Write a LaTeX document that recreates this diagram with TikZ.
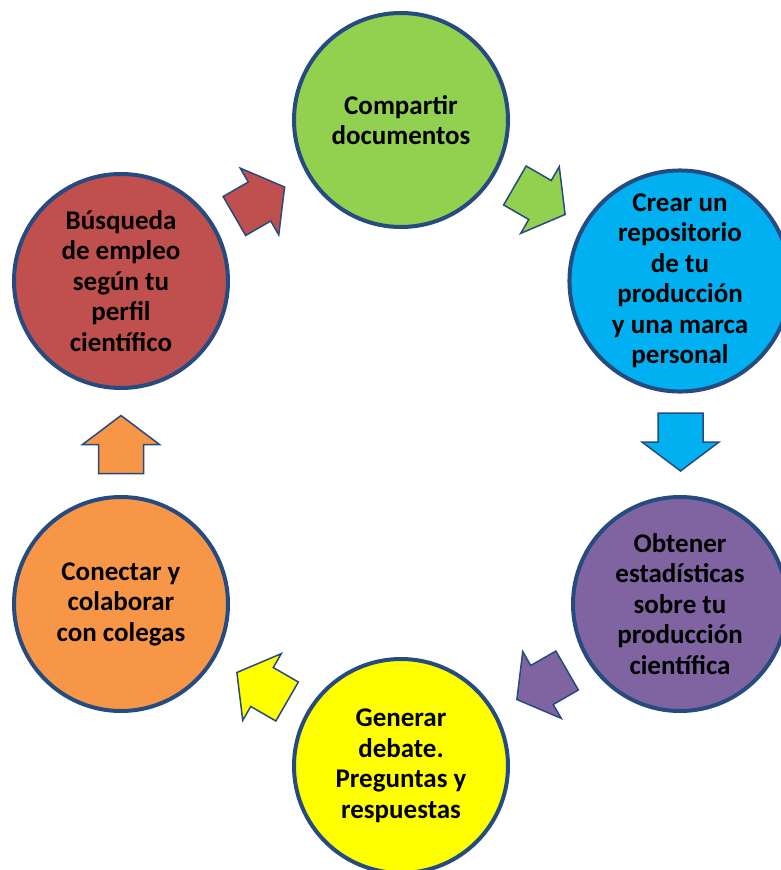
\documentclass[tikz,border=0pt]{standalone}
\usepackage{fontspec}
\setmainfont{Carlito}
\definecolor{rim}{RGB}{37,75,128}
\definecolor{cgreen}{HTML}{92D050}
\definecolor{cblue}{HTML}{00B0F0}
\definecolor{cpurple}{HTML}{8064A2}
\definecolor{cyellow}{HTML}{FFFF00}
\definecolor{corange}{HTML}{F79646}
\definecolor{cred}{HTML}{C0504D}
\tikzset{
  stage/.style={circle, draw=rim, line width=4pt, minimum size=214pt, inner sep=0pt,
    align=center, font=\fontsize{27}{30.5}\selectfont\bfseries, text=black},
  blockarrow/.style={draw=rim, line width=1.5pt, line join=miter}
}
% #1 name, #2 x, #3 y, #4 angle, #5 colour
\newcommand{\blockarr}[5]{%
  \begin{scope}[shift={(#2,#3)}, rotate=#4]
    \coordinate (#1) at (0,0);
    \path[blockarrow, fill=#5] (-29,-22.5) -- (0,-22.5) -- (0,-38.5) -- (29,0)
      -- (0,38.5) -- (0,22.5) -- (-29,22.5) -- cycle;
  \end{scope}}
\begin{document}
\begin{tikzpicture}[x=1pt,y=-1pt]
\useasboundingbox (0,0) rectangle (781,870);
\clip (0,0) rectangle (781,870);
\node[stage, fill=cgreen] (n1) at (401,120) {Compartir\\documentos};
\node[stage, fill=cblue] (n2) at (680,281) {Crear un\\repositorio\\de tu\\producción\\y una marca\\personal};
\node[stage, fill=cpurple] (n3) at (680,604) {Obtener\\estadísticas\\sobre tu\\producción\\científica};
\node[stage, fill=cyellow] (n4) at (401,766) {Generar\\debate.\\Preguntas y\\respuestas};
\node[stage, fill=corange] (n5) at (121,604) {Conectar y\\colaborar\\con colegas};
\node[stage, fill=cred] (n6) at (121,281) {Búsqueda\\de empleo\\según tu\\perfil\\científico};
\blockarr{a1}{259.5}{201.5}{30}{cred}
\blockarr{a2}{540}{200}{-30}{cgreen}
\blockarr{a3}{680.5}{442}{-90}{cblue}
\blockarr{a4}{542}{685}{210}{cpurple}
\blockarr{a5}{262}{687}{150}{cyellow}
\blockarr{a6}{121}{444.5}{90}{corange}
\end{tikzpicture}
\end{document}
